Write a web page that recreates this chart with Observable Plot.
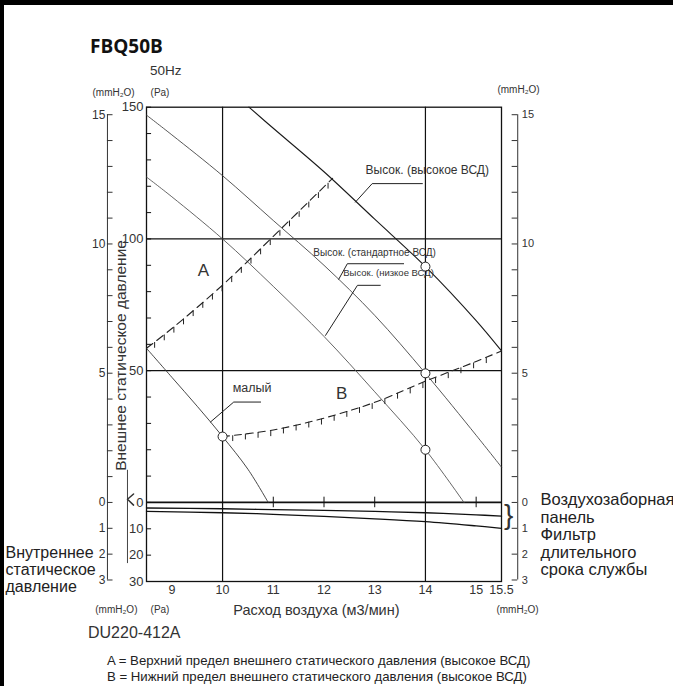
<!DOCTYPE html>
<html><head><meta charset="utf-8">
<script src="https://cdn.jsdelivr.net/npm/d3@7"></script>
<script src="https://cdn.jsdelivr.net/npm/@observablehq/plot@0.6"></script>
<style>
body{margin:0;background:#fff;}
#page{position:relative;width:673px;height:686px;overflow:hidden;background:#fff;font-family:"Liberation Sans",Arial,sans-serif;color:#222;}
.bar-top{position:absolute;left:0;top:0;width:673px;height:5px;background:#000;}
.bar-left{position:absolute;left:0;top:0;width:4px;height:686px;background:#000;}
.t{position:absolute;white-space:nowrap;line-height:1;}
#chart{position:absolute;left:0;top:80px;}
</style></head><body>
<div id="page">
  <div class="bar-top"></div><div class="bar-left"></div>
  <div class="t" style="left:90px;top:37px;font-family:'Open Sans';font-weight:700;font-size:19px;color:#111;">FBQ50B</div>
  <div class="t" style="left:150px;top:64px;font-size:13.5px;color:#333;">50Hz</div>
  <div id="chart"></div>
  <div class="t" style="left:88px;top:625px;font-size:16px;color:#333;">DU220-412A</div>
  <div class="t" style="left:107px;top:654px;font-size:13.2px;color:#222;">A = Верхний предел внешнего статического давления (высокое ВСД)</div>
  <div class="t" style="left:107px;top:670px;font-size:13.2px;color:#222;">B = Нижний предел внешнего статического давления (высокое ВСД)</div>
</div>
<script>
// ---- data (flow m3/min, pressure Pa) ----
const flowTicks = [9, 10, 11, 12, 13, 14, 15, 15.5];
const paLabels = [150, 100, 50, 0, -10, -20, -30];
const paMinor = [-30, -20, -10, 0, 10, 20, 30, 40, 50, 60, 70, 80, 90, 100, 110, 120, 130, 140, 150];
const mmUpperTicks = [0, 1, 2, 3, 4, 5, 6, 7, 8, 9, 10, 11, 12, 13, 14, 15];
const mmUpperLabels = [15, 10, 5, 0];
const mmLowerTicks = [1, 2, 3];
const gridFlow = [10, 14];
const gridPa = [100, 50];
const zeroTicks = [11, 12, 13, 15];

const highESP = [
  {flow: 10.52, pa: 150}, {flow: 11, pa: 142}, {flow: 12, pa: 125.5}, {flow: 13, pa: 107.5},
  {flow: 14, pa: 89.5}, {flow: 15, pa: 69}, {flow: 15.5, pa: 57.5}
];
const standardESP = [
  {flow: 8.5, pa: 147}, {flow: 9, pa: 139.5}, {flow: 10, pa: 124}, {flow: 11, pa: 107},
  {flow: 12, pa: 90}, {flow: 13, pa: 71}, {flow: 14, pa: 49}, {flow: 15, pa: 25.5}, {flow: 15.5, pa: 13.4}
];
const lowESP = [
  {flow: 8.5, pa: 123.5}, {flow: 9, pa: 116}, {flow: 10, pa: 100}, {flow: 11, pa: 82},
  {flow: 12, pa: 63}, {flow: 13, pa: 42}, {flow: 14, pa: 20}, {flow: 14.76, pa: 0}
];
const lowTap = [
  {flow: 8.5, pa: 58.5}, {flow: 9, pa: 47.5}, {flow: 9.5, pa: 36.5}, {flow: 10, pa: 25},
  {flow: 10.5, pa: 12.6}, {flow: 10.9, pa: 0}
];
const upperA = [
  {flow: 8.5, pa: 58.5}, {flow: 9, pa: 66}, {flow: 10, pa: 82.5}, {flow: 11, pa: 101}, {flow: 12.17, pa: 123}
];
const lowerB = [
  {flow: 10, pa: 25}, {flow: 11, pa: 27.5}, {flow: 12, pa: 32}, {flow: 13, pa: 38},
  {flow: 14, pa: 46}, {flow: 15, pa: 53.5}, {flow: 15.5, pa: 57.5}
];
const intakePanel = [
  {flow: 8.5, pa: -2.1}, {flow: 10, pa: -2.4}, {flow: 11, pa: -2.7}, {flow: 12, pa: -3.0},
  {flow: 13, pa: -3.4}, {flow: 14, pa: -3.9}, {flow: 15, pa: -4.7}, {flow: 15.5, pa: -5.2}
];
const longLifeFilter = [
  {flow: 8.5, pa: -3.4}, {flow: 10, pa: -3.9}, {flow: 11, pa: -4.5}, {flow: 12, pa: -5.3},
  {flow: 13, pa: -6.2}, {flow: 14, pa: -7.3}, {flow: 15, pa: -8.9}, {flow: 15.5, pa: -9.8}
];
const ratedPoints = [
  {flow: 10, pa: 25}, {flow: 14, pa: 89.5}, {flow: 14, pa: 49}, {flow: 14, pa: 20}
];

// ---- annotation texts (positions in flow / Pa units) ----
const curveLabels = [
  {flow: 12.82, pa: 126.1, text: "Высок. (высокое ВСД)", size: 12},
  {flow: 11.79, pa: 94.6, text: "Высок. (стандартное ВСД)", size: 10},
  {flow: 12.38, pa: 87.0, text: "Высок. (низкое ВСД)", size: 9.5},
  {flow: 10.2, pa: 43.3, text: "малый", size: 12.5}
];
const regionLabels = [
  {flow: 9.62, pa: 88.1, text: "A"},
  {flow: 12.35, pa: 41.4, text: "B"}
];
const leaders = [
  {id: "h", flow: 12.62, pa: 114.0}, {id: "h", flow: 12.95, pa: 121.0}, {id: "h", flow: 13.94, pa: 121.0},
  {id: "s", flow: 12.29, pa: 84.7}, {id: "s", flow: 12.46, pa: 90.6}, {id: "s", flow: 13.57, pa: 90.6},
  {id: "l", flow: 12.03, pa: 63.4}, {id: "l", flow: 12.66, pa: 82.4}, {id: "l", flow: 13.11, pa: 82.4},
  {id: "m", flow: 9.76, pa: 30.5}, {id: "m", flow: 10.22, pa: 38.1}, {id: "m", flow: 10.75, pa: 38.1}
];
const unitLabels = [
  {flow: 7.435, pa: 155.3, text: "(mmH₂O)"},
  {flow: 8.58, pa: 155.3, text: "(Pa)"},
  {flow: 15.42, pa: 156.5, text: "(mmH₂O)"},
  {flow: 7.49, pa: -40.6, text: "(mmH₂O)"},
  {flow: 8.58, pa: -40.6, text: "(Pa)"},
  {flow: 15.40, pa: -40.6, text: "(mmH₂O)"}
];
const axisTitles = [
  {flow: 11.85, pa: -41.0, text: "Расход воздуха (м3/мин)", rotate: 0},
  {flow: 7.99, pa: 55.8, text: "Внешнее статическое давление", rotate: -90}
];
const sideLeft = [{flow: 5.72, pa: -25.4, text: "Внутреннее\nстатическое\nдавление"}];
const sideRight = [{flow: 16.27, pa: -12.15, text: "Воздухозаборная\nпанель\nФильтр\nдлительного\nсрока службы"}];

// layout constants (flow units for the mmH2O side axes)
const MM = 9.81;
const leftMmAxis = 7.73, rightMmAxis = 15.82, breakLine = 8.125;

// hatch marks along the limit lines (decoration following the drawn lines)
const interpA = d3.scaleLinear(upperA.map(d => d.flow), upperA.map(d => d.pa));
const interpB = d3.scaleLinear(lowerB.map(d => d.flow), lowerB.map(d => d.pa));
const hatchA = d3.range(8.66, 12.1, 0.19).map(f => ({flow: f, pa: interpA(f)}));
const hatchB = d3.range(10.2, 15.45, 0.25).map(f => ({flow: f, pa: interpB(f)}));

const ink = "#222";
const chart = Plot.plot({
  width: 673, height: 545,
  marginLeft: 146, marginRight: 172, marginTop: 26.7, marginBottom: 44,
  x: {domain: [8.5, 15.5], label: null},
  y: {domain: [-30, 150], label: null},
  style: {fontFamily: "'Liberation Sans', Arial, sans-serif", background: "transparent", overflow: "visible", color: ink},
  marks: [
    Plot.ruleX(gridFlow, {stroke: "#111", strokeWidth: 1.2}),
    Plot.ruleY(gridPa, {stroke: "#111", strokeWidth: 1.2}),
    Plot.ruleY([0], {stroke: "#111", strokeWidth: 1.8}),
    Plot.ruleX(zeroTicks, {y1: -2, y2: 2, stroke: "#111", strokeWidth: 1}),
    Plot.frame({stroke: "#111", strokeWidth: 1.3}),
    // Pa axis
    Plot.ruleY(paMinor, {x1: 8.5, x2: 8.6, stroke: "#111"}),
    Plot.axisY(paLabels, {anchor: "left", tickSize: 0, tickPadding: 3, fontSize: 13, fill: "#333", tickFormat: d => String(Math.abs(d)), label: null}),
    Plot.axisX(flowTicks, {anchor: "bottom", tickSize: 0, tickPadding: 4, fontSize: 12.5, fill: "#333", tickFormat: d => String(d), label: null}),
    // left mmH2O axis
    Plot.ruleX([leftMmAxis], {y1: -3 * MM, y2: 15 * MM, stroke: "#333"}),
    Plot.ruleY(mmUpperTicks, {y: d => d * MM, x1: leftMmAxis, x2: leftMmAxis + 0.11, stroke: "#333"}),
    Plot.ruleY(mmLowerTicks, {y: d => -d * MM, x1: leftMmAxis, x2: leftMmAxis + 0.11, stroke: "#333"}),
    Plot.text(mmUpperLabels, {x: leftMmAxis - 0.04, y: d => d * MM, text: d => String(d), textAnchor: "end", fontSize: 12, fill: "#333"}),
    Plot.text(mmLowerTicks, {x: leftMmAxis - 0.04, y: d => -d * MM, text: d => String(d), textAnchor: "end", fontSize: 12, fill: "#333"}),
    // right mmH2O axis
    Plot.ruleX([rightMmAxis], {y1: -3 * MM, y2: 15 * MM, stroke: "#333"}),
    Plot.ruleY(mmUpperTicks, {y: d => d * MM, x1: rightMmAxis, x2: rightMmAxis - 0.11, stroke: "#333"}),
    Plot.ruleY(mmLowerTicks, {y: d => -d * MM, x1: rightMmAxis, x2: rightMmAxis - 0.11, stroke: "#333"}),
    Plot.text(mmUpperLabels, {x: rightMmAxis + 0.08, y: d => d * MM, text: d => String(d), textAnchor: "start", fontSize: 11, fill: "#333"}),
    Plot.text(mmLowerTicks, {x: rightMmAxis + 0.08, y: d => -d * MM, text: d => String(d), textAnchor: "start", fontSize: 11, fill: "#333"}),
    // break bracket at the left and brace at the right
    Plot.ruleX([breakLine], {y1: -23.2, y2: 12.2, stroke: "#444"}),
    Plot.line([{flow: breakLine + 0.12, pa: 3.2}, {flow: breakLine, pa: 1.2}, {flow: breakLine + 0.12, pa: -1}], {x: "flow", y: "pa", stroke: "#333"}),
    Plot.text([{flow: 15.64, pa: -4.6}], {x: "flow", y: "pa", text: () => "}", fontSize: 28, fill: "#333"}),
    // internal pressure lines
    Plot.line(intakePanel, {x: "flow", y: "pa", stroke: "#111", strokeWidth: 1.3, curve: "catmull-rom"}),
    Plot.line(longLifeFilter, {x: "flow", y: "pa", stroke: "#111", strokeWidth: 1.3, curve: "catmull-rom"}),
    // fan curves
    Plot.line(highESP, {x: "flow", y: "pa", stroke: "#1a1a1a", strokeWidth: 1.1, curve: "catmull-rom"}),
    Plot.line(standardESP, {x: "flow", y: "pa", stroke: "#444", strokeWidth: 0.9, curve: "catmull-rom"}),
    Plot.line(lowESP, {x: "flow", y: "pa", stroke: "#555", strokeWidth: 0.9, curve: "catmull-rom"}),
    Plot.line(lowTap, {x: "flow", y: "pa", stroke: "#333", strokeWidth: 0.9, curve: "catmull-rom"}),
    // limits A and B
    Plot.line(upperA, {x: "flow", y: "pa", stroke: "#222", strokeWidth: 1.1, strokeDasharray: "8,5", curve: "catmull-rom"}),
    Plot.link(hatchA, {x1: "flow", y1: "pa", x2: "flow", y2: d => d.pa - 2.2, stroke: "#222", strokeWidth: 1}),
    Plot.line(lowerB, {x: "flow", y: "pa", stroke: "#222", strokeWidth: 1.1, strokeDasharray: "7,5", curve: "catmull-rom"}),
    Plot.link(hatchB, {x1: "flow", y1: "pa", x2: "flow", y2: d => d.pa - 2.2, stroke: "#222", strokeWidth: 1}),
    // leaders and labels
    Plot.line(leaders, {x: "flow", y: "pa", z: "id", stroke: "#222", strokeWidth: 1}),
    Plot.dot(ratedPoints, {x: "flow", y: "pa", r: 4.5, fill: "white", stroke: "#222", strokeWidth: 1}),
    Plot.text(curveLabels.filter(d => d.size === 12), {x: "flow", y: "pa", text: "text", textAnchor: "start", fontSize: 12, fill: "#333"}),
    Plot.text(curveLabels.filter(d => d.size === 10), {x: "flow", y: "pa", text: "text", textAnchor: "start", fontSize: 10, fill: "#333"}),
    Plot.text(curveLabels.filter(d => d.size === 9.5), {x: "flow", y: "pa", text: "text", textAnchor: "start", fontSize: 9.5, fill: "#333"}),
    Plot.text(curveLabels.filter(d => d.size === 12.5), {x: "flow", y: "pa", text: "text", textAnchor: "start", fontSize: 12.5, fill: "#333"}),
    Plot.text(regionLabels, {x: "flow", y: "pa", text: "text", fontSize: 17, fill: "#333"}),
    // unit and axis titles
    Plot.text(unitLabels, {x: "flow", y: "pa", text: "text", textAnchor: "start", fontSize: 10, fill: "#333"}),
    Plot.text(axisTitles.filter(d => d.rotate === 0), {x: "flow", y: "pa", text: "text", fontSize: 14.5, fill: "#333"}),
    Plot.text(axisTitles.filter(d => d.rotate !== 0), {x: "flow", y: "pa", text: "text", rotate: -90, fontSize: 15.5, fill: "#333"}),
    Plot.text(sideLeft, {x: "flow", y: "pa", text: "text", textAnchor: "start", lineAnchor: "middle", lineHeight: 1.09, fontSize: 16, fill: "#222"}),
    Plot.text(sideRight, {x: "flow", y: "pa", text: "text", textAnchor: "start", lineAnchor: "middle", lineHeight: 1.06, fontSize: 16.5, fill: "#222"})
  ]
});
document.getElementById("chart").append(chart);
</script>
</body></html>
